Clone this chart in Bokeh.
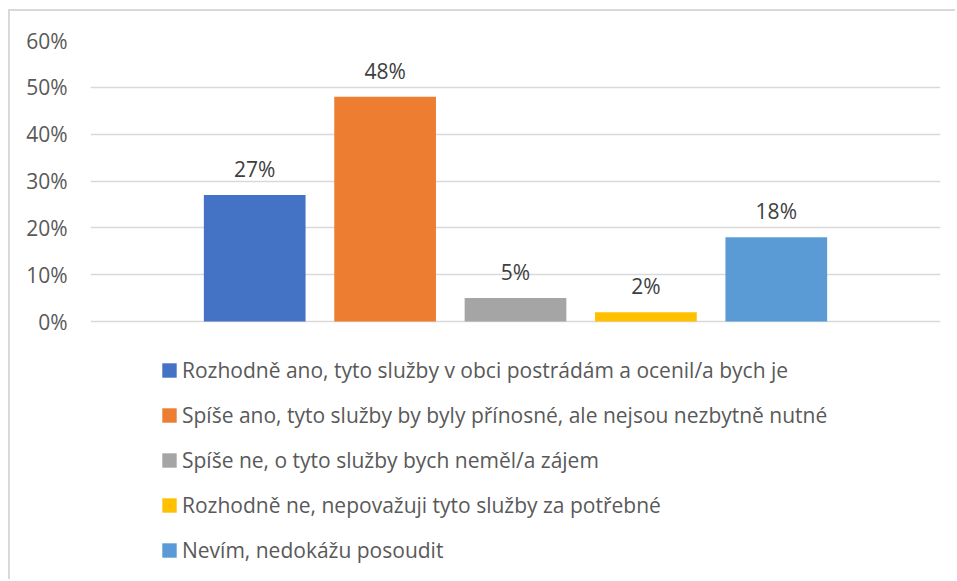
from bokeh.plotting import figure
from bokeh.models import ColumnDataSource, FactorRange, Range1d, Legend, LegendItem, NumeralTickFormatter, FixedTicker
from bokeh.embed import file_html
from bokeh.resources import INLINE
from bokeh.core.properties import value

categories = [
    "Rozhodně ano, tyto služby v obci postrádám a ocenil/a bych je",
    "Spíše ano, tyto služby by byly přínosné, ale nejsou nezbytně nutné",
    "Spíše ne, o tyto služby bych neměl/a zájem",
    "Rozhodně ne, nepovažuji tyto služby za potřebné",
    "Nevím, nedokážu posoudit",
]
values = [0.27, 0.48, 0.05, 0.02, 0.18]
labels = ["27%", "48%", "5%", "2%", "18%"]
colors = ["#4472C4", "#ED7D31", "#A5A5A5", "#FFC000", "#5B9BD5"]
y_ticks = [0.0, 0.1, 0.2, 0.3, 0.4, 0.5, 0.6]

FONT = "Open Sans"
FS = "21px"

src = ColumnDataSource(dict(cat=categories, val=values, lab=labels, col=colors))

# the frame runs down to the bottom edge so the legend can sit under the bars
p = figure(
    width=947, height=570,
    x_range=FactorRange(*categories, range_padding=198 / 652, range_padding_units="percent"),
    y_range=Range1d(-0.555, 0.6),
    output_backend="svg", toolbar_location=None,
    min_border_left=80, min_border_top=29, min_border_right=17, min_border_bottom=0,
)
p.styles = {"margin-left": "8px", "margin-top": "9px",
            "border-left": "2px solid #d9d9d9", "border-top": "2px solid #d9d9d9"}
p.outline_line_color = None
p.background_fill_color = "white"
p.border_fill_color = "white"

renderers = []
for i in range(len(categories)):
    r = p.vbar(x=[categories[i]], top=[values[i]], width=0.78, fill_color=colors[i], line_color=None)
    renderers.append(r)

p.text(x="cat", y="val", text="lab", source=src, text_align="center", text_baseline="middle",
       y_offset=-26, text_font=value(FONT), text_font_size=FS, text_color="#404040")

p.xaxis.visible = False
p.xgrid.grid_line_color = None
p.ygrid.grid_line_color = "#d9d9d9"
p.ygrid.grid_line_width = 1.3
p.ygrid.ticker = FixedTicker(ticks=y_ticks)

ya = p.yaxis[0]
ya.ticker = FixedTicker(ticks=y_ticks)
ya.formatter = NumeralTickFormatter(format="0%")
ya.axis_line_color = None
ya.major_tick_line_color = None
ya.minor_tick_line_color = None
ya.major_tick_out = 0
ya.major_tick_in = 0
ya.major_label_standoff = 23
ya.major_label_text_font = FONT
ya.major_label_text_font_size = FS
ya.major_label_text_color = "#595959"

legend = Legend(
    items=[LegendItem(label=categories[i], renderers=[renderers[i]]) for i in range(len(categories))],
    location=(70, 17), orientation="vertical",
    padding=0, spacing=17, margin=0,
    glyph_width=18, glyph_height=18, label_standoff=4, label_height=20,
    label_text_font=FONT, label_text_font_size=FS, label_text_color="#595959",
    border_line_color=None, background_fill_alpha=0,
)
p.add_layout(legend, "center")

open("out.html", "w").write(file_html(p, INLINE))
